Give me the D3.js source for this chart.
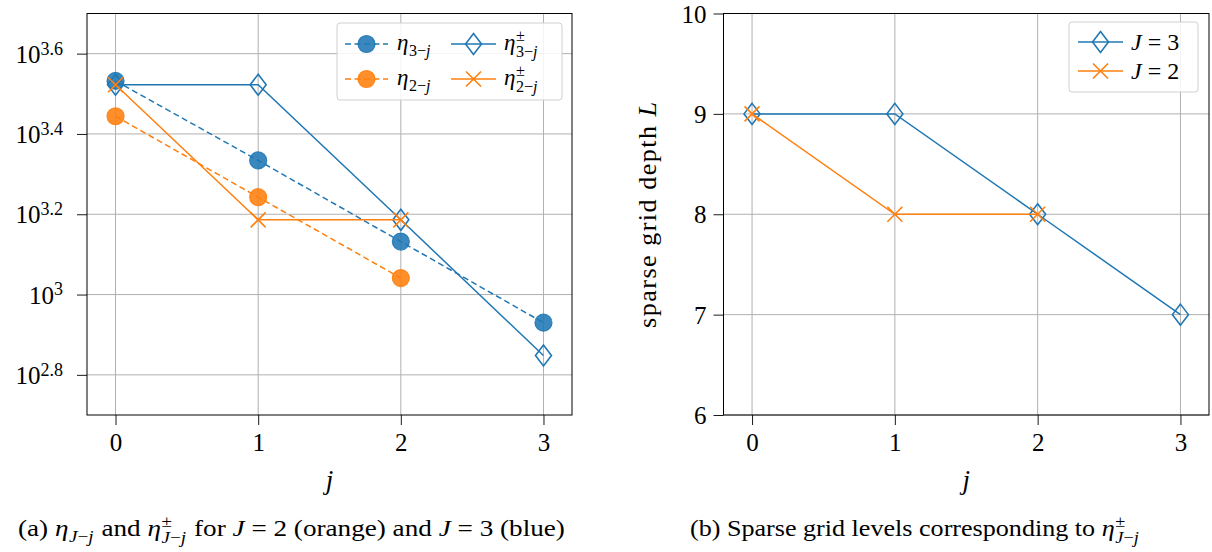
<!DOCTYPE html>
<html>
<head>
<meta charset="utf-8">
<script src="https://cdn.jsdelivr.net/npm/d3@7"></script>
<style>
  html, body { margin: 0; padding: 0; background: #fff; }
  svg { display: block; }
  text { font-family: "Liberation Serif", "DejaVu Serif", serif; fill: #000; white-space: pre; }
</style>
</head>
<body>
<svg id="fig" width="1212" height="552"></svg>
<script>
// ---- data ----
const jLevels = [0, 1, 2, 3];
// error estimators (left panel), log-scaled
const eta3 = [3405, 2158, 1355, 851];
const eta2 = [2780, 1748, 1099];
const etaPM3 = [3330, 3330, 1535, 705];
const etaPM2 = [3330, 1535, 1535];
const leftTickExponents = [2.8, 3, 3.2, 3.4, 3.6];
// sparse grid levels (right panel)
const levelJ3 = [9, 9, 8, 7];
const levelJ2 = [9, 8, 8];
const rightTicks = [6, 7, 8, 9, 10];
const xTicks = [0, 1, 2, 3];

const BLUE = "#1f77b4", ORANGE = "#ff7f0e", GRID = "#b0b0b0";
const TICK_FONT = 25;
const svg = d3.select("#fig");

// ---- marker shapes ----
function drawCircle(g, x, y, color) {
  g.append("circle").attr("cx", x).attr("cy", y).attr("r", 8.5)
    .attr("fill", color).attr("fill-opacity", 0.88)
    .attr("stroke", color).attr("stroke-opacity", 0.88).attr("stroke-width", 1.2);
}
function drawDiamond(g, x, y, color) {
  const w = 8, h = 10.5;
  g.append("path").attr("d", `M${x},${y - h}L${x + w},${y}L${x},${y + h}L${x - w},${y}Z`)
    .attr("fill", "none").attr("stroke", color).attr("stroke-width", 1.6);
}
function drawCross(g, x, y, color) {
  const s = 7.5;
  g.append("path").attr("d", `M${x - s},${y - s}L${x + s},${y + s}M${x - s},${y + s}L${x + s},${y - s}`)
    .attr("fill", "none").attr("stroke", color).attr("stroke-width", 1.6);
}

function series(g, xs, ys, vals, color, dashed, marker) {
  const pts = vals.map((v, i) => [xs(jLevels[i]), ys(v)]);
  g.append("path").attr("d", d3.line()(pts))
    .attr("fill", "none").attr("stroke", color).attr("stroke-width", 1.5)
    .attr("stroke-dasharray", dashed ? "6,3.5" : null);
  pts.forEach(p => marker(g, p[0], p[1], color));
}

// ---- math-ish labels ----
// η with a subscript (and optional ± superscript stacked above it), as one text element;
// returns the total advance width
function etaLabel(g, x, y, size, subNum, pm) {
  const t = g.append("text").attr("x", x).attr("y", y).style("font-size", size + "px");
  const eta = t.append("tspan").style("font-style", "italic").text("η");
  const w = eta.node().getComputedTextLength() + 0.5;
  const ss = size * 0.7;
  let wp = 0;
  let subDy = size * 0.25;
  if (pm) {
    const p = t.append("tspan").attr("x", x + w).attr("dy", -size * 0.4)
      .style("font-size", ss + "px").text("±");
    wp = p.node().getComputedTextLength();
    subDy = size * 0.7;
  }
  const parts = subNum === "J"
    ? [{ t: "J", i: true }, { t: "−", i: false }, { t: "j", i: true }]
    : [{ t: subNum, i: false }, { t: "−", i: false }, { t: "j", i: true }];
  let ws = 0;
  parts.forEach((p, k) => {
    const ts = t.append("tspan").style("font-size", ss + "px")
      .style("font-style", p.i ? "italic" : "normal").text(p.t);
    if (k === 0) ts.attr("x", x + w).attr("dy", subDy);
    ws += ts.node().getComputedTextLength();
  });
  return w + Math.max(wp, ws);
}

// ---- panel builder ----
function panel(opts) {
  const { left, right, top, bottom } = opts;
  const x = d3.scaleLinear().domain([-0.2, 3.2]).range([left, right]);
  const y = opts.y.range([bottom, top]);
  const g = svg.append("g");

  // grid
  const grid = g.append("g");
  xTicks.forEach(t => grid.append("line").attr("x1", x(t)).attr("x2", x(t))
    .attr("y1", top).attr("y2", bottom).attr("stroke", GRID).attr("stroke-width", 1));
  opts.yTicks.forEach(t => grid.append("line").attr("x1", left).attr("x2", right)
    .attr("y1", y(t)).attr("y2", y(t)).attr("stroke", GRID).attr("stroke-width", 1));

  // axes
  const xAxis = g.append("g").attr("transform", `translate(0,${bottom})`)
    .call(d3.axisBottom(x).tickValues(xTicks).tickSize(10).tickPadding(5).tickFormat(d3.format("d")));
  xAxis.select(".domain").remove();
  xAxis.selectAll("text").style("font-size", TICK_FONT + "px").attr("dy", "0.85em");
  xAxis.selectAll("line").attr("stroke", "#000").attr("stroke-width", 0.9);

  const yAxis = g.append("g").attr("transform", `translate(${left},0)`)
    .call(d3.axisLeft(y).tickValues(opts.yTicks).tickSize(10).tickFormat(""));
  yAxis.select(".domain").remove();
  yAxis.selectAll("line").attr("stroke", "#000").attr("stroke-width", 0.9);
  yAxis.selectAll(".tick").each(function (d) {
    const tk = d3.select(this).append("text").attr("x", -opts.labelGap).attr("dy", "0.34em")
      .attr("text-anchor", "end").style("font-size", TICK_FONT + "px");
    opts.yLabel(tk, d);
  });

  // x label
  g.append("text").attr("x", (left + right) / 2).attr("y", 489).attr("text-anchor", "middle")
    .style("font-size", "27px").style("font-style", "italic").text("j");

  const plot = g.append("g");
  opts.draw(plot, x, y);

  // frame
  g.append("rect").attr("x", left).attr("y", top).attr("width", right - left).attr("height", bottom - top)
    .attr("fill", "none").attr("stroke", "#000").attr("stroke-width", 1);
  return g;
}

// ---- left panel: estimators ----
const leftY = d3.scaleLog().domain([Math.pow(10, 2.7), Math.pow(10, 3.7)]);
panel({
  left: 87, right: 572, top: 13.5, bottom: 415, labelGap: 24,
  y: leftY,
  yTicks: leftTickExponents.map(e => Math.pow(10, e)),
  yLabel: (tk, d) => {
    const e = Math.round(Math.log10(d) * 10) / 10;
    tk.append("tspan").text("10");
    tk.append("tspan").attr("dy", "-0.45em").style("font-size", "18px").text(String(e));
  },
  draw: (g, x, y) => {
    series(g, x, y, eta3, BLUE, true, drawCircle);
    series(g, x, y, eta2, ORANGE, true, drawCircle);
    series(g, x, y, etaPM3, BLUE, false, drawDiamond);
    series(g, x, y, etaPM2, ORANGE, false, drawCross);
  }
});

// legend (two columns)
(function () {
  const lg = svg.append("g");
  lg.append("rect").attr("x", 337).attr("y", 23).attr("width", 225).attr("height", 77).attr("rx", 3)
    .attr("fill", "#fff").attr("fill-opacity", 0.85).attr("stroke", "#d0d0d0");
  const rows = [44, 79];
  const entries = [
    { col: 0, row: 0, color: BLUE, dashed: true, marker: drawCircle, sub: "3", pm: false },
    { col: 0, row: 1, color: ORANGE, dashed: true, marker: drawCircle, sub: "2", pm: false },
    { col: 1, row: 0, color: BLUE, dashed: false, marker: drawDiamond, sub: "3", pm: true },
    { col: 1, row: 1, color: ORANGE, dashed: false, marker: drawCross, sub: "2", pm: true }
  ];
  const colX = [[345, 388, 397], [451, 496, 504]];
  entries.forEach(e => {
    const [x0, x1, tx] = colX[e.col];
    const yy = rows[e.row];
    lg.append("line").attr("x1", x0).attr("x2", x1).attr("y1", yy).attr("y2", yy)
      .attr("stroke", e.color).attr("stroke-width", 1.5)
      .attr("stroke-dasharray", e.dashed ? "6,3.5" : null);
    e.marker(lg, (x0 + x1) / 2, yy, e.color);
    etaLabel(lg, tx, yy + 6, 23, e.sub, e.pm);
  });
})();

// ---- right panel: sparse grid levels ----
panel({
  left: 723.5, right: 1209, top: 13.5, bottom: 415, labelGap: 17,
  y: d3.scaleLinear().domain([6, 10]),
  yTicks: rightTicks,
  yLabel: (tk, d) => tk.text(d),
  draw: (g, x, y) => {
    series(g, x, y, levelJ3, BLUE, false, drawDiamond);
    series(g, x, y, levelJ2, ORANGE, false, drawCross);
  }
});
svg.append("text").attr("transform", "translate(656,215) rotate(-90)").attr("text-anchor", "middle")
  .style("font-size", "26px")
  .call(t => {
    t.append("tspan").text("sparse grid depth ");
    t.append("tspan").style("font-style", "italic").text("L");
  })
  .attr("textLength", 226).attr("lengthAdjust", "spacing");

(function () {
  const lg = svg.append("g");
  lg.append("rect").attr("x", 1069).attr("y", 22).attr("width", 129).attr("height", 70).attr("rx", 3)
    .attr("fill", "#fff").attr("fill-opacity", 0.85).attr("stroke", "#d0d0d0");
  [{ y: 42, color: BLUE, marker: drawDiamond, n: "3" }, { y: 71, color: ORANGE, marker: drawCross, n: "2" }]
    .forEach(e => {
      lg.append("line").attr("x1", 1078).attr("x2", 1123).attr("y1", e.y).attr("y2", e.y)
        .attr("stroke", e.color).attr("stroke-width", 1.5);
      e.marker(lg, 1100.5, e.y, e.color);
      const t = lg.append("text").attr("x", 1131).attr("y", e.y + 8).style("font-size", "24px");
      t.append("tspan").style("font-style", "italic").text("J");
      t.append("tspan").text(" = " + e.n);
    });
})();

// ---- captions ----
(function () {
  const size = 23, y = 536;
  let cx = 0;
  function put(g, str, italic) {
    const t = g.append("text").attr("x", cx).attr("y", 0).style("font-size", size + "px")
      .style("font-style", italic ? "italic" : "normal").text(str);
    cx += t.node().getComputedTextLength();
  }
  function putEta(g, pm) {
    cx += etaLabel(g, cx, 0, size, "J", pm) + 1;
  }
  function place(g, x0, x1) {
    const sx = (x1 - x0) / cx;
    g.attr("transform", `translate(${x0},${y}) scale(${sx},1)`);
  }

  const ga = svg.append("g");
  cx = 0;
  put(ga, "(a) ");
  putEta(ga, false);
  put(ga, " and ");
  putEta(ga, true);
  put(ga, " for ");
  put(ga, "J", true);
  put(ga, " = 2 (orange) and ");
  put(ga, "J", true);
  put(ga, " = 3 (blue)");
  place(ga, 18, 565);

  const gb = svg.append("g");
  cx = 0;
  put(gb, "(b) Sparse grid levels corresponding to ");
  putEta(gb, true);
  place(gb, 690, 1140);
})();
</script>
</body>
</html>
